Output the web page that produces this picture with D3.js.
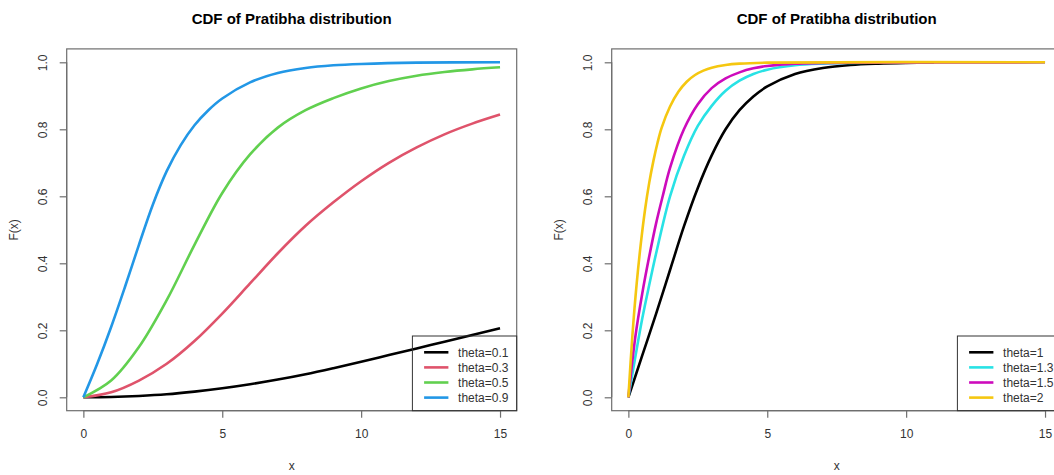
<!DOCTYPE html>
<html>
<head>
<meta charset="utf-8">
<script src="https://cdn.jsdelivr.net/npm/d3@7"></script>
<style>
  body { margin: 0; background: #fff; }
  text { font-family: "Liberation Sans", Arial, sans-serif; fill: #333; }
</style>
</head>
<body>
<svg id="chart" width="1054" height="475"></svg>
<script>
// values
var xTicks = [0, 5, 10, 15],
  yTicks = [0, 0.2, 0.4, 0.6, 0.8, 1.0];

// left panel: theta = 0.1, 0.3, 0.5, 0.9
var leftLabels = ["theta=0.1", "theta=0.3", "theta=0.5", "theta=0.9"];
var leftColors = ["#000000", "#DF536B", "#61D04F", "#2297E6"];
var gridX = [0, 1, 2, 3, 4, 5, 6, 7, 8, 9, 10, 11, 12, 13, 14, 15];
var t01y = [0, 0.001, 0.004, 0.009, 0.017, 0.027, 0.039, 0.053, 0.069, 0.087, 0.106, 0.126, 0.146, 0.166, 0.186, 0.206];
var t03y = [0, 0.015, 0.05, 0.1, 0.168, 0.25, 0.34, 0.43, 0.512, 0.582, 0.645, 0.7, 0.746, 0.785, 0.817, 0.844];
var t05y = [0, 0.05, 0.15, 0.29, 0.455, 0.61, 0.725, 0.805, 0.857, 0.893, 0.922, 0.944, 0.96, 0.971, 0.979, 0.985];
var t09x = [0, 0.5, 1, 1.5, 2, 2.5, 3, 3.5, 4, 4.5, 5, 6, 7, 8, 9, 10, 12, 15],
  t09y = [0, 0.1, 0.21, 0.33, 0.455, 0.575, 0.675, 0.752, 0.812, 0.857, 0.892, 0.94, 0.968, 0.983, 0.991, 0.995, 0.999, 1.0];

// right panel: theta = 1, 1.3, 1.5, 2
var rightLabels = ["theta=1", "theta=1.3", "theta=1.5", "theta=2"];
var rightColors = ["#000000", "#28E2E5", "#CD0BBC", "#F5C710"];
var t1x = [0, 0.5, 1, 1.5, 2, 2.5, 3, 3.5, 4, 4.5, 5, 6, 7, 8, 9, 10, 11],
  t1y = [0, 0.125, 0.25, 0.38, 0.51, 0.625, 0.722, 0.8, 0.857, 0.898, 0.928, 0.965, 0.983, 0.992, 0.996, 0.998, 0.999];
var t13x = [0, 0.25, 0.5, 0.75, 1, 1.5, 2, 2.5, 3, 3.5, 4, 4.5, 5, 6, 7, 8, 10, 15],
  t13y = [0, 0.12, 0.235, 0.335, 0.43, 0.6, 0.72, 0.81, 0.87, 0.915, 0.945, 0.965, 0.978, 0.991, 0.996, 0.998, 1.0, 1.0];
var t15x = [0, 0.25, 0.5, 0.75, 1, 1.25, 1.5, 2, 2.5, 3, 3.5, 4, 4.5, 5, 6, 7, 8, 15],
  t15y = [0, 0.18, 0.31, 0.42, 0.52, 0.605, 0.685, 0.8, 0.875, 0.923, 0.952, 0.97, 0.982, 0.989, 0.996, 0.998, 0.999, 1.0];
var t2x = [0, 0.15, 0.3, 0.45, 0.6, 0.75, 0.9, 1.05, 1.2, 1.5, 1.8, 2.1, 2.4, 2.7, 3, 3.5, 4, 5, 15],
  t2y = [0, 0.19, 0.34, 0.46, 0.56, 0.64, 0.705, 0.76, 0.805, 0.868, 0.912, 0.942, 0.962, 0.975, 0.984, 0.992, 0.996, 0.999, 1.0];

var svg = d3.select("#chart"),
  boxW = 450,
  boxTop = 48.9,
  boxBottom = 410.7;

function pairs(xs, ys) {
  return xs.map(function(x, i) { return [x, ys[i]]; });
}

function drawPanel(left, series, labels, colors) {
  var g = svg.append("g");
  var right = left + boxW;

  // R style 4% padding on both axes
  var x = d3.scaleLinear().domain([-0.6, 15.6]).range([left, right]);
  var y = d3.scaleLinear().domain([-0.04, 1.04]).range([boxBottom, boxTop]);

  var line = d3.line()
    .x(function(d) { return x(d[0]); })
    .y(function(d) { return y(d[1]); })
    .curve(d3.curveCatmullRom.alpha(0.5));

  series.forEach(function(s, i) {
    g.append("path")
      .attr("d", line(s))
      .attr("fill", "none")
      .attr("stroke", colors[i])
      .attr("stroke-width", 2.6)
      .attr("stroke-linejoin", "round");
  });

  // box
  g.append("rect")
    .attr("x", left).attr("y", boxTop)
    .attr("width", boxW).attr("height", boxBottom - boxTop)
    .attr("fill", "none").attr("stroke", "#6e6e6e").attr("stroke-width", 1.2);

  // x axis
  var xa = g.append("g").attr("transform", "translate(0," + boxBottom + ")")
    .call(d3.axisBottom(x).tickValues(xTicks).tickSize(7).tickSizeOuter(0).tickPadding(12));
  xa.select(".domain").attr("d", "M" + x(0) + ",0H" + x(15));
  xa.selectAll("line, path").attr("stroke", "#6e6e6e").attr("stroke-width", 1.2);
  xa.selectAll("text").attr("font-size", 12).attr("fill", "#333")
    .attr("font-family", "Liberation Sans, Arial, sans-serif");

  // y axis with rotated labels
  var ya = g.append("g").attr("transform", "translate(" + left + ",0)")
    .call(d3.axisLeft(y).tickValues(yTicks).tickSize(7).tickSizeOuter(0).tickFormat(d3.format(".1f")));
  ya.select(".domain").attr("d", "M0," + y(0) + "V" + y(1));
  ya.selectAll("line, path").attr("stroke", "#6e6e6e").attr("stroke-width", 1.2);
  ya.selectAll("text")
    .attr("font-size", 12).attr("fill", "#333")
    .attr("font-family", "Liberation Sans, Arial, sans-serif")
    .attr("x", null).attr("dy", null)
    .attr("text-anchor", "middle")
    .attr("transform", "translate(-19.5,0) rotate(-90)");

  // titles
  g.append("text")
    .attr("x", (left + right) / 2).attr("y", 24)
    .attr("text-anchor", "middle")
    .attr("font-size", 15).attr("font-weight", "bold")
    .style("fill", "#000")
    .text("CDF of Pratibha distribution");

  g.append("text")
    .attr("x", (left + right) / 2).attr("y", 470)
    .attr("text-anchor", "middle")
    .attr("font-size", 12)
    .text("x");

  g.append("text")
    .attr("transform", "translate(" + (left - 48.5) + "," + ((boxTop + boxBottom) / 2) + ") rotate(-90)")
    .attr("text-anchor", "middle")
    .attr("font-size", 12)
    .text("F(x)");

  // legend, bottom right, no fill
  var lx = right - 104.3, ly = 336;
  g.append("rect")
    .attr("x", lx).attr("y", ly)
    .attr("width", 104.3).attr("height", boxBottom - ly)
    .attr("fill", "none").attr("stroke", "#333").attr("stroke-width", 1);

  labels.forEach(function(lab, i) {
    var ry = 352.3 + i * 15.1;
    g.append("line")
      .attr("x1", lx + 11.7).attr("x2", lx + 36)
      .attr("y1", ry).attr("y2", ry)
      .attr("stroke", colors[i]).attr("stroke-width", 2.6);
    g.append("text")
      .attr("x", lx + 45.7).attr("y", ry + 4.3)
      .attr("font-size", 12)
      .text(lab);
  });
}

drawPanel(66.7,
  [pairs(gridX, t01y), pairs(gridX, t03y), pairs(gridX, t05y), pairs(t09x, t09y)],
  leftLabels, leftColors);

drawPanel(611.7,
  [pairs(t1x, t1y), pairs(t13x, t13y), pairs(t15x, t15y), pairs(t2x, t2y)],
  rightLabels, rightColors);
</script>
</body>
</html>
